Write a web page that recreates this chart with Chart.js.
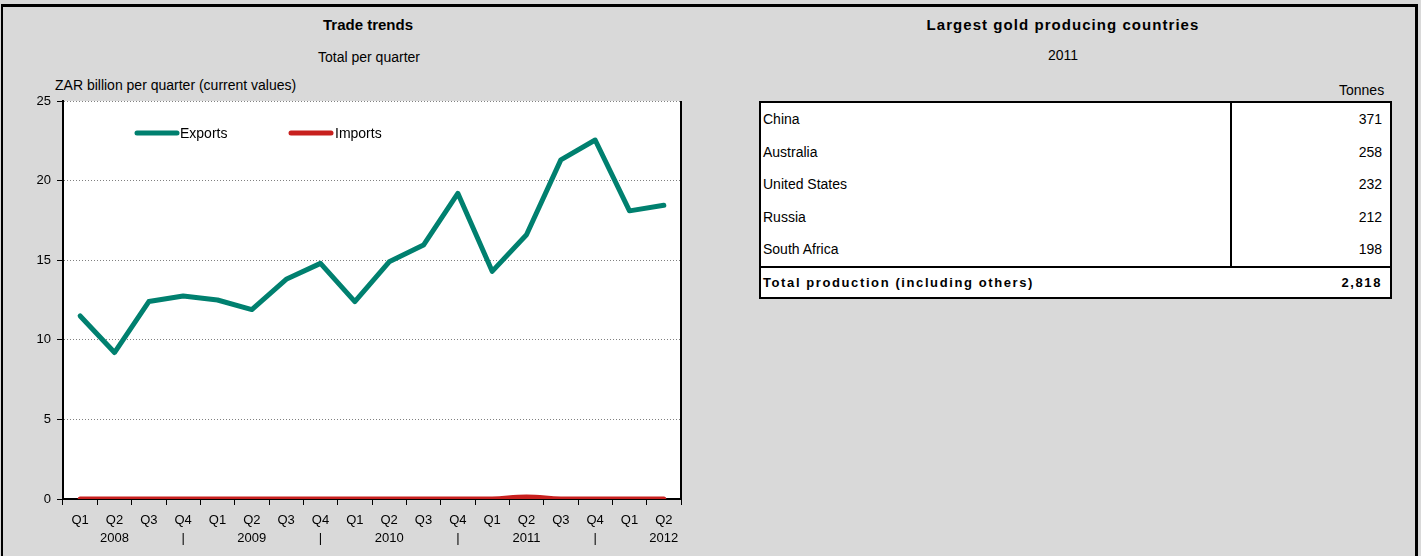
<!DOCTYPE html>
<html>
<head>
<meta charset="utf-8">
<script src="https://cdn.jsdelivr.net/npm/chart.js@4/dist/chart.umd.min.js"></script>
<style>
  body { margin: 0; background: #d9d9d9; font-family: "Liberation Sans", Arial, sans-serif; color: #000; }
  #page { position: relative; width: 1421px; height: 556px; overflow: hidden; }
  #frame { position: absolute; left: 1px; top: 4px; width: 1412px; height: 600px; border: 3px solid #000; border-left-width: 2px; }
  .txt { position: absolute; white-space: nowrap; line-height: 1; }
  .center { transform: translateX(-50%); }
  #chartBox { position: absolute; left: 0; top: 0; width: 720px; height: 556px; }
  table { position: absolute; left: 759px; top: 101px; width: 633px; border-collapse: collapse; border: 2px solid #000; font-size: 14px; background: #fff; }
  td { height: 32.5px; padding: 0 4px 0 2px; vertical-align: middle; }
  td.num { text-align: right; border-left: 2px solid #000; width: 148px; padding-right: 8px; }
  tr.total td { border-top: 2px solid #000; font-weight: bold; letter-spacing: 1.6px; height: 29px; font-size: 13px; }
</style>
</head>
<body>
<div id="page">
  <div id="frame"></div>
  <div class="txt center" style="left:368px;top:17px;font-size:15px;font-weight:bold;">Trade trends</div>
  <div class="txt center" style="left:369px;top:50px;font-size:14px;">Total per quarter</div>
  <div class="txt" style="left:55px;top:78px;font-size:14px;">ZAR billion per quarter (current values)</div>
  <div id="chartBox"><canvas id="trade"></canvas></div>

  <div class="txt center" style="left:1063px;top:17px;font-size:15px;font-weight:bold;letter-spacing:1.05px;">Largest gold producing countries</div>
  <div class="txt center" style="left:1063px;top:48px;font-size:14px;">2011</div>
  <div class="txt" style="left:1339px;top:83px;font-size:14px;">Tonnes</div>
  <table id="gold"></table>
</div>

<script>
// Trade trends data (ZAR billion per quarter)
const quarters = ['Q1','Q2','Q3','Q4','Q1','Q2','Q3','Q4','Q1','Q2','Q3','Q4','Q1','Q2','Q3','Q4','Q1','Q2'];
const yearRow = ['','2008','','|','','2009','','|','','2010','','|','','2011','','|','','2012'];
const exportsData = [11.5, 9.2, 12.4, 12.75, 12.5, 11.9, 13.8, 14.8, 12.4, 14.9, 15.95, 19.2, 14.3, 16.6, 21.3, 22.55, 18.1, 18.45];
const importsData = [0, 0, 0, 0, 0, 0, 0, 0, 0, 0, 0, 0, 0, 0.12, 0, 0, 0, 0];

// Gold table data
const countries = ['China', 'Australia', 'United States', 'Russia', 'South Africa'];
const tonnes = ['371', '258', '232', '212', '198'];
const totalLabel = 'Total production (including others)';
const totalTonnes = '2,818';

const teal = '#00806f';
const red = '#c8201e';

// build the table
const table = document.getElementById('gold');
countries.forEach(function(c, i) {
  const tr = document.createElement('tr');
  tr.innerHTML = '<td>' + c + '</td><td class="num">' + tonnes[i] + '</td>';
  table.appendChild(tr);
});
const totalRow = document.createElement('tr');
totalRow.className = 'total';
totalRow.innerHTML = '<td>' + totalLabel + '</td><td class="num" style="border-left:none">' + totalTonnes + '</td>';
table.appendChild(totalRow);

// white plot area + right border
const plotBg = {
  id: 'plotBg',
  beforeDraw(chart) {
    const a = chart.chartArea, ctx = chart.ctx;
    ctx.save();
    ctx.fillStyle = '#fff';
    ctx.fillRect(a.left, a.top, a.right - a.left, a.bottom - a.top);
    ctx.restore();
  },
  afterDraw(chart) {
    const a = chart.chartArea, ctx = chart.ctx;
    ctx.save();
    ctx.strokeStyle = '#000';
    ctx.lineWidth = 2;
    ctx.beginPath();
    ctx.moveTo(a.right, a.top);
    ctx.lineTo(a.right, a.bottom);
    ctx.stroke();
    ctx.restore();
  }
};

// legend drawn inside the plot like the original
const lineLegend = {
  id: 'lineLegend',
  afterDraw(chart) {
    const ctx = chart.ctx;
    const items = [[137, 177, 180], [291, 331, 335]];
    ctx.save();
    ctx.font = '14px "Liberation Sans", Arial, sans-serif';
    ctx.textBaseline = 'middle';
    chart.data.datasets.forEach(function(ds, i) {
      const it = items[i];
      ctx.strokeStyle = ds.borderColor;
      ctx.lineWidth = 5;
      ctx.lineCap = 'round';
      ctx.beginPath();
      ctx.moveTo(it[0], 133);
      ctx.lineTo(it[1], 133);
      ctx.stroke();
      ctx.fillStyle = '#000';
      ctx.fillText(ds.label, it[2], 134);
    });
    ctx.restore();
  }
};

new Chart(document.getElementById('trade'), {
  type: 'line',
  data: {
    labels: quarters.map(function(q, i) { return [q, yearRow[i]]; }),
    datasets: [
      { label: 'Exports', data: exportsData, borderColor: teal, borderWidth: 5, pointRadius: 0, tension: 0, borderJoinStyle: 'round', borderCapStyle: 'round' },
      { label: 'Imports', data: importsData, borderColor: red, borderWidth: 5, pointRadius: 0, tension: 0.4, borderCapStyle: 'round' }
    ]
  },
  options: {
    responsive: true,
    maintainAspectRatio: false,
    animation: false,
    layout: { padding: { left: 0, top: 101, right: 39, bottom: 0 } },
    plugins: { legend: { display: false }, tooltip: { enabled: false } },
    scales: {
      x: {
        offset: true,
        grid: { offset: true, drawOnChartArea: false, tickLength: 6, tickColor: '#000', color: '#000' },
        border: { color: '#000', width: 2 },
        ticks: { color: '#000', font: { size: 13, family: '"Liberation Sans", Arial, sans-serif', lineHeight: 1.36 }, maxRotation: 0, autoSkip: false, padding: 7 },
        afterFit(s) { s.height = 57; }
      },
      y: {
        min: 0, max: 25,
        ticks: { stepSize: 5, color: '#000', font: { size: 13, family: '"Liberation Sans", Arial, sans-serif' }, padding: 6 },
        grid: { color: '#808080', tickColor: '#000', tickLength: 6, tickBorderDash: [], lineWidth: 1 },
        border: { color: '#000', width: 2, dash: [1, 2] },
        afterFit(s) { s.width = 63; }
      }
    }
  },
  plugins: [plotBg, lineLegend]
});
</script>
</body>
</html>
